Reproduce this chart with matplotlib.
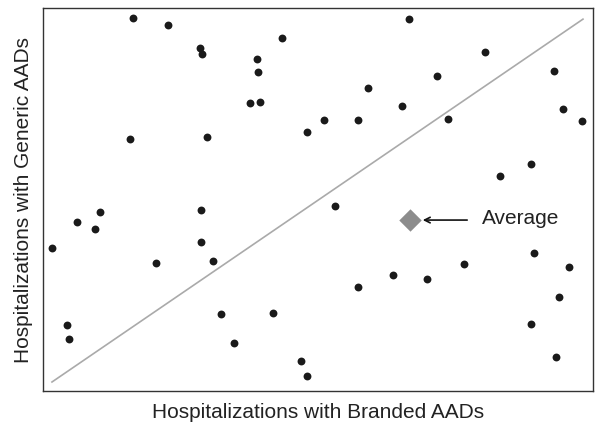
import numpy as np
import matplotlib
matplotlib.use('Agg')
import matplotlib.pyplot as plt

# hospitalizations (arbitrary units)
branded = [90, 125, 157, 159, 214, 215, 239, 207, 217, 87, 164,
           366, 442, 511, 394, 325, 359, 520, 539, 405, 281, 264, 315,
           488, 457, 292, 158, 57, 34, 52, 9, 158, 113, 170,
           491, 526, 421, 350, 384, 315, 516, 230, 178, 24, 26, 191,
           488, 513, 258, 264]
generic = [373, 366, 343, 337, 332, 319, 353, 288, 289, 252, 254,
           372, 339, 320, 315, 303, 285, 282, 270, 272, 271, 259, 271,
           227, 215, 185, 181, 179, 169, 162, 143, 149, 128, 130,
           138, 124, 127, 116, 112, 104, 94, 78, 77, 66, 52, 48,
           67, 34, 30, 15]
avg_branded = 367
avg_generic = 171
ref_line = [9, 540]   # identity line, same range on both axes
ref_line_y = [9, 372]

plt.rcParams['font.family'] = ['Liberation Sans', 'DejaVu Sans']

fig = plt.figure(figsize=(6.02, 4.29), dpi=100)
ax = fig.add_axes([0.0714, 0.0886, 0.9136, 0.8924])

ax.plot(ref_line, ref_line_y, color='#aaaaaa', lw=1.2, zorder=1)
ax.scatter(branded, generic, s=32, color='#1a1a1a', zorder=3, linewidths=0)
ax.scatter([avg_branded], [avg_generic], marker='D', s=130, color='#8c8c8c', zorder=3, linewidths=0)

ax.annotate('', xy=(avg_branded + 10, avg_generic), xytext=(avg_branded + 60, avg_generic),
            arrowprops=dict(arrowstyle='->', color='#111111', lw=1.2))
ax.text(avg_branded + 72, avg_generic + 2, 'Average', fontsize=15, va='center', ha='left', color='#222222')

ax.set_xlim(0, 550)
ax.set_ylim(0, 383)
ax.set_xticks([])
ax.set_yticks([])
for s in ax.spines.values():
    s.set_color('#333333')
    s.set_linewidth(1.0)

ax.set_xlabel('Hospitalizations with Branded AADs', fontsize=15, color='#222222', labelpad=9)
ax.set_ylabel('Hospitalizations with Generic AADs', fontsize=15, color='#222222', labelpad=7)

fig.savefig('out.png', dpi=100)
